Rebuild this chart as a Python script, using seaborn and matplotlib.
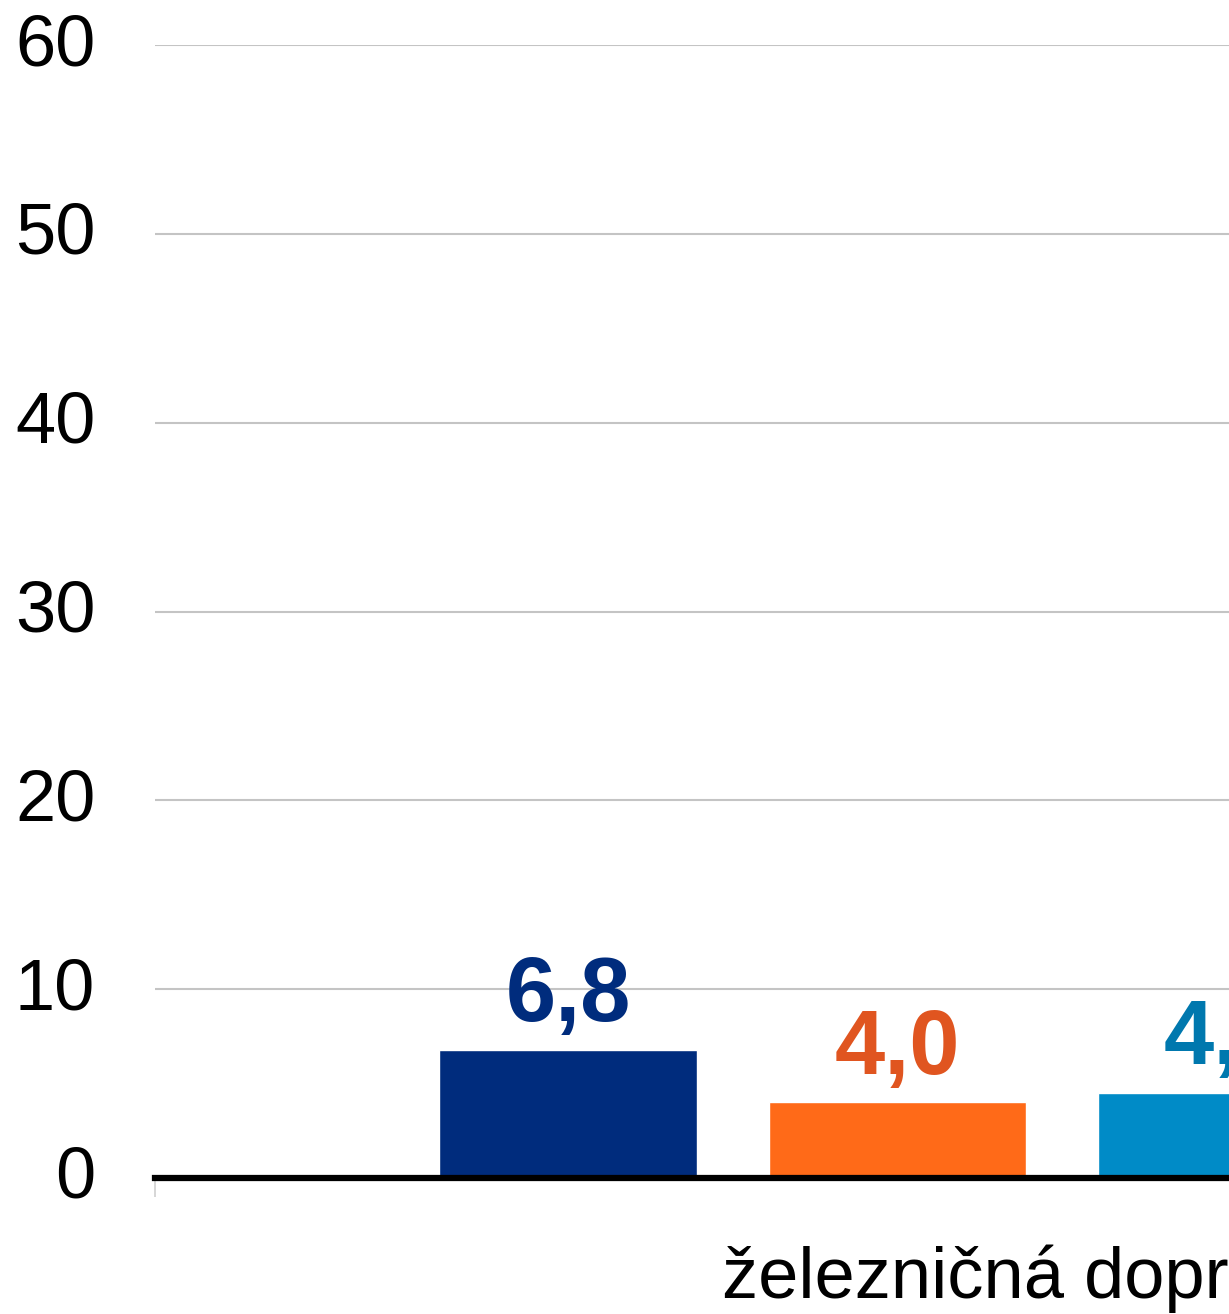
import seaborn as sns
import matplotlib.pyplot as plt
import matplotlib.transforms as mtransforms
import pandas as pd

# údaje z grafu
kategorie = ['železničná doprava'] * 3
rady = ['rad 1', 'rad 2', 'rad 3']
hodnoty = [6.8, 4.0, 4.5]
farby_stlpcov = ['#002C7D', '#FF6A18', '#008BC7']
farby_popisov = ['#002C7D', '#E05520', '#0078AE']

df = pd.DataFrame({'kategoria': kategorie, 'rad': rady, 'hodnota': hodnoty})

sns.set_style('white')
plt.rcParams['font.family'] = ['Liberation Sans', 'DejaVu Sans']

fig = plt.figure(figsize=(12.29, 13.14), dpi=100)
ax = fig.add_axes([155 / 1229, 136 / 1314, 1485 / 1229, 1133 / 1314])

sns.barplot(data=df, x='kategoria', y='hodnota', hue='rad', palette=farby_stlpcov,
            saturation=1, gap=0.216, legend=False, ax=ax)

ax.set_ylim(0, 60)
ax.set_xlim(-0.6017, 0.6017)
ax.set_yticks(range(0, 61, 10))
ax.yaxis.grid(True, color='#C4C4C4', linewidth=1.5)
ax.set_axisbelow(True)
for s in ['left', 'right', 'top']:
    ax.spines[s].set_visible(False)
ax.spines['bottom'].set_color('black')
ax.spines['bottom'].set_linewidth(4.5)

ax.tick_params(axis='y', length=0, pad=43, labelsize=52, labelcolor='black')
ax.tick_params(axis='x', length=0, pad=48, labelsize=52, labelcolor='black')
ax.set_xlabel('')
ax.set_ylabel('')

# malá značka na ľavom okraji osi x
ax.set_xticks([-0.6017], minor=True)
ax.tick_params(axis='x', which='minor', length=14, width=1.2, color='#D0D0D0', bottom=True)

# popisy osi y trochu vyššie
hore = mtransforms.ScaledTranslation(0, 0.06, fig.dpi_scale_trans)
for lbl in ax.get_yticklabels():
    lbl.set_transform(lbl.get_transform() + hore)

# posun popisu kategórie
posun = mtransforms.ScaledTranslation(-1.755, 0, fig.dpi_scale_trans)
for lbl in ax.get_xticklabels():
    lbl.set_horizontalalignment('left')
    lbl.set_transform(lbl.get_transform() + posun)

# popisy hodnôt nad stĺpcami
for cont, farba in zip(ax.containers, farby_popisov):
    ax.bar_label(cont, labels=[f'{v:.1f}'.replace('.', ',') for v in cont.datavalues],
                 padding=7, fontsize=65, fontweight='bold', color=farba)

fig.savefig('out.png', dpi=100)
